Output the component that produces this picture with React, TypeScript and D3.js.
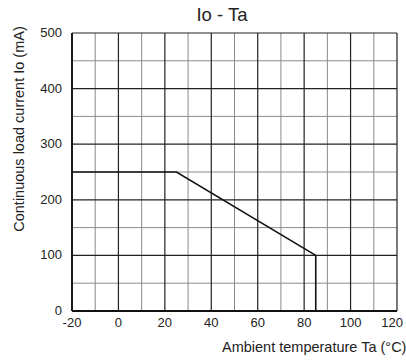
import React from "react";
import * as d3 from "d3";

const xMajorTicks = [-20, 0, 20, 40, 60, 80, 100, 120];
const xMinorTicks = [-10, 10, 30, 50, 70, 90, 110];
const yMajorTicks = [0, 100, 200, 300, 400, 500];
const yMinorTicks = [50, 150, 250, 350, 450];

const temperature = [-20, 25, 85, 85];
const current = [250, 250, 100, 0];

const W = 406;
const H = 360;
const left = 72;
const right = 397;
const top = 33;
const bottom = 311;
const FONT = "'Liberation Sans', Arial, sans-serif";

export default function App() {
  const x = d3.scaleLinear().domain([-20, 120]).range([left, right]);
  const y = d3.scaleLinear().domain([0, 500]).range([bottom, top]);
  const pts = temperature.map((t, i) => [t, current[i]] as [number, number]);
  const line = d3
    .line<[number, number]>()
    .x((d) => x(d[0]))
    .y((d) => y(d[1]));

  return (
    <svg
      width={W}
      height={H}
      style={{ position: "absolute", left: 0, top: 0, background: "#fff" }}
      fontFamily={FONT}
    >
      {xMinorTicks.map((t) => (
        <line key={"xm" + t} x1={x(t)} x2={x(t)} y1={top} y2={bottom} stroke="#8a8a8a" strokeWidth={1} />
      ))}
      {yMinorTicks.map((t) => (
        <line key={"ym" + t} x1={left} x2={right} y1={y(t)} y2={y(t)} stroke="#8a8a8a" strokeWidth={1} />
      ))}
      {xMajorTicks.map((t) => (
        <line key={"xM" + t} x1={x(t)} x2={x(t)} y1={top} y2={bottom} stroke="#222" strokeWidth={1.2} />
      ))}
      {yMajorTicks.map((t) => (
        <line key={"yM" + t} x1={left} x2={right} y1={y(t)} y2={y(t)} stroke="#222" strokeWidth={1.2} />
      ))}
      <line x1={left} x2={left} y1={top} y2={bottom} stroke="#111" strokeWidth={1.8} />
      <line x1={left} x2={right} y1={bottom} y2={bottom} stroke="#111" strokeWidth={1.8} />
      <path d={line(pts) || ""} fill="none" stroke="#111" strokeWidth={1.6} />

      {xMajorTicks.map((t) => {
        const px = x(t);
        const last = px + 12 > W;
        return (
          <text
            key={"xl" + t}
            x={last ? W - 3 : px}
            y={327}
            fontSize={13}
            textAnchor={last ? "end" : "middle"}
            fill="#222"
          >
            {t}
          </text>
        );
      })}
      {yMajorTicks.map((t) => (
        <text key={"yl" + t} x={62} y={y(t)} dy="0.3em" fontSize={13} textAnchor="end" fill="#222">
          {t}
        </text>
      ))}

      <text x={222} y={21} fontSize={18.5} textAnchor="middle" fill="#222">
        Io - Ta
      </text>
      <text x={222} y={352} fontSize={14.5} textAnchor="start" fill="#222">
        Ambient temperature Ta (°C)
      </text>
      <text
        transform={`translate(24,129) rotate(-90)`}
        fontSize={14.5}
        textAnchor="middle"
        fill="#222"
      >
        Continuous load current Io (mA)
      </text>
    </svg>
  );
}
